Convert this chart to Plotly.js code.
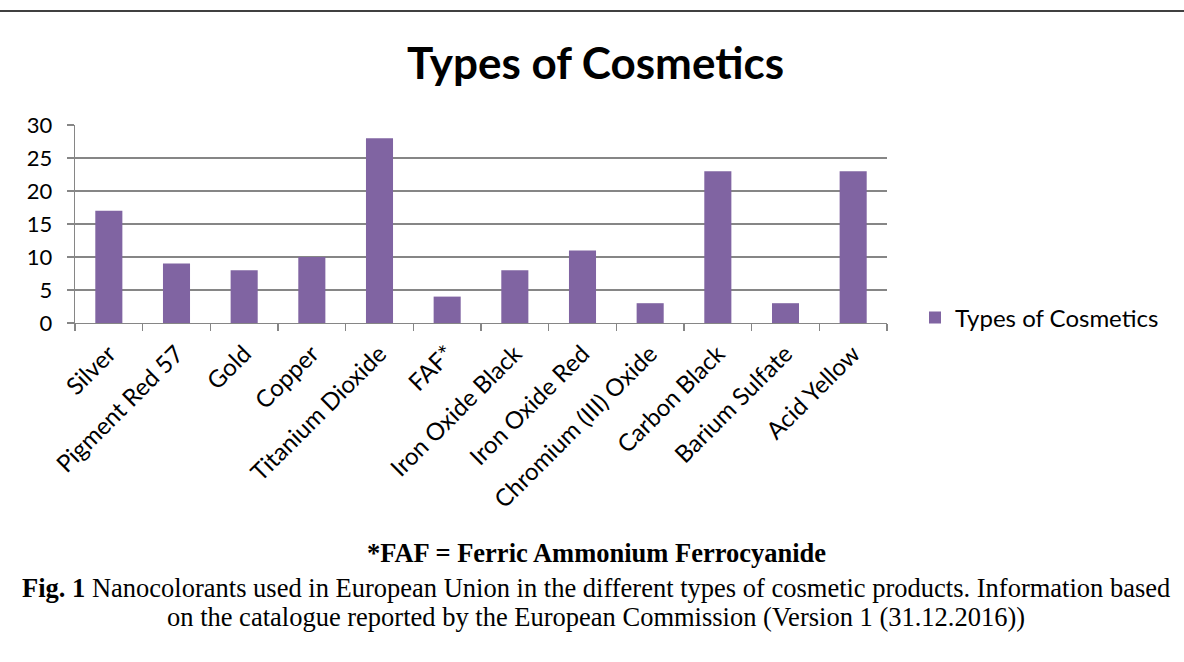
<!DOCTYPE html>
<html><head><meta charset="utf-8">
<script src="https://cdn.plot.ly/plotly-3.0.1.min.js"></script>
<style>html,body{margin:0;padding:0;background:#fff;}#chart{width:1184px;height:662px;}</style>
</head><body><div id="chart"></div>
<script>
const categories = ["Silver","Pigment Red 57","Gold","Copper","Titanium Dioxide","FAF*","Iron Oxide Black","Iron Oxide Red","Chromium (III) Oxide","Carbon Black","Barium Sulfate","Acid Yellow"];
const values = [17,9,8,10,28,4,8,11,3,23,3,23];
const seriesName = "Types of Cosmetics";
const yTicks = [0,5,10,15,20,25,30];

const L=75,R=297,T=125,B=339,H=662-T-B;
function py(Y){return (662-B-Y)/H;}
const font="Lato, 'Open Sans', sans-serif";
const serif="'Liberation Serif', 'DejaVu Serif', serif";

Plotly.newPlot('chart',[{
  type:'bar', x:categories, y:values, name:seriesName,
  marker:{color:'#8064A2', line:{width:0}}, width:0.4, showlegend:true
}],{
  width:1184,height:662,
  margin:{l:L,r:R,t:T,b:B,pad:0},
  paper_bgcolor:'#fff',plot_bgcolor:'#fff',
  title:{text:'<b>Types of Cosmetics</b>',font:{family:font,size:44,color:'#000'},x:0.503,xanchor:'center',y:1-64/662,yanchor:'middle'},
  showlegend:true,
  legend:{x:(915-L)/812,xanchor:'left',y:py(318),yanchor:'middle',font:{family:font,size:24,color:'#000'},itemwidth:30,bgcolor:'rgba(0,0,0,0)'},
  xaxis:{type:'category',tickangle:-45,tickfont:{family:font,size:24,color:'#000'},ticklabelstandoff:6,
    ticks:'outside',tickson:'boundaries',ticklen:7,tickcolor:'#868686',tickwidth:1.3,
    showline:true,linecolor:'#868686',linewidth:1.3,showgrid:false,zeroline:false,fixedrange:true},
  yaxis:{range:[0,30],tickvals:yTicks,ticks:'outside',ticklen:7,tickcolor:'#868686',tickwidth:1.3,ticklabelstandoff:10,
    tickfont:{family:font,size:22,color:'#000'},showline:true,linecolor:'#868686',linewidth:1.3,
    showgrid:true,gridcolor:'#868686',gridwidth:1.3,zeroline:false,fixedrange:true},
  shapes:[{type:'line',xref:'paper',yref:'paper',x0:-L/812,x1:1+R/812,y0:py(11),y1:py(11),line:{color:'#000',width:1.5}}],
  annotations:[
    {text:'<b>*FAF = Ferric Ammonium Ferrocyanide</b>',xref:'paper',yref:'paper',x:(596-L)/812,y:py(553),xanchor:'center',yanchor:'middle',showarrow:false,font:{family:serif,size:26.5,color:'#000'}},
    {text:'<b>Fig. 1</b> Nanocolorants used in European Union in the different types of cosmetic products. Information based',xref:'paper',yref:'paper',x:(596-L)/812,y:py(588),xanchor:'center',yanchor:'middle',showarrow:false,font:{family:serif,size:26.5,color:'#000'}},
    {text:'on the catalogue reported by the European Commission (Version 1 (31.12.2016))',xref:'paper',yref:'paper',x:(596-L)/812,y:py(617),xanchor:'center',yanchor:'middle',showarrow:false,font:{family:serif,size:26.5,color:'#000'}}
  ]
},{displayModeBar:false,staticPlot:true});
</script></body></html>
